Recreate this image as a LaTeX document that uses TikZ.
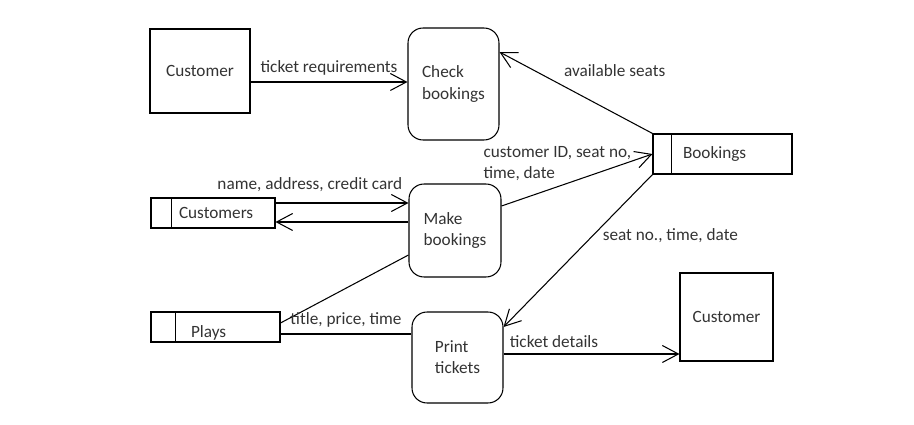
\documentclass[tikz,border=0pt]{standalone}
\usepackage{fontspec}
\setmainfont{Carlito}
\usetikzlibrary{arrows.meta}
\usetikzlibrary{positioning}

\begin{document}
\begin{tikzpicture}[x=0.02cm, y=-0.02cm, line width=0.6pt,
	every node/.style={font=\fontsize{9.8}{12}\selectfont, text=black!80},
	entity/.style={draw},
	proc/.style={draw, rounded corners=0.3cm, align=left},
	store/.style={draw, inner xsep=0pt, inner ysep=0pt, align=left},
	flow/.style={-{Straight Barb[length=0.32cm,width=0.34cm]}}]
					\useasboundingbox (0,0) rectangle (914,425);

					% external entities
					\node[entity, minimum width=2cm, minimum height=1.68cm] (cust1) at (200,71) {Customer};
					\node[entity, minimum width=1.86cm, minimum height=1.76cm] (cust2) at (726.5,317) {Customer};

					% processes
					\node[proc, minimum width=1.82cm, minimum height=2.24cm] (check) at (453.5,84) {Check\\bookings};
					\node[proc, minimum width=1.84cm, minimum height=1.86cm] (make) at (455,230.5) {Make\\bookings};
					\node[proc, minimum width=1.82cm, minimum height=1.82cm] (print) at (457.5,357.5) {Print\\tickets};

					% data stores
					\node[store, text width=2.78cm, minimum height=0.8cm] (bookings) at (722.5,154) {\hspace*{0.6cm}Bookings};
					\node[store, text width=2.48cm, minimum height=0.6cm] (customers) at (213,213) {\hspace*{0.56cm}Customers};
					\node[store, text width=2.58cm, text height=0.52cm, text depth=0.08cm] (plays) at (215.5,327) {\hspace*{0.8cm}Plays};
					\draw ([xshift=0.38cm]bookings.north west) -- ([xshift=0.38cm]bookings.south west);
					\draw ([xshift=0.42cm]customers.north west) -- ([xshift=0.42cm]customers.south west);
					\draw ([xshift=0.5cm]plays.north west) -- ([xshift=0.5cm]plays.south west);

					% flows
					\draw[flow] ([yshift=-0.22cm]cust1.east) -- ([yshift=-0.22cm]cust1.east -| check.west) node[midway, above] {ticket requirements};
					\draw[flow] (bookings.north west) -- ([yshift=0.64cm]check.east) node[pos=0.62, anchor=south west] {available seats};
					\draw[flow] ([yshift=0.2cm]customers.east) -- ([yshift=0.2cm]customers.east -| make.west) node[pos=1, above left, yshift=3pt] {name, address, credit card};
					\draw[flow] ([yshift=-0.18cm]customers.east -| make.west) -- ([yshift=-0.18cm]customers.east);
					\draw[flow] ([yshift=0.49cm]make.east) -- (bookings.west) node[pos=0.37, above, align=left] {customer ID, seat no,\\time, date};
					\draw[flow] (bookings.south west) -- ([yshift=0.61cm]print.east) node[pos=0.4, right, xshift=2pt] {seat no., time, date};
					\draw[flow] ([yshift=0.07cm]print.east) -- ([yshift=0.07cm]print.east -| cust2.west) node[pos=0, above right] {ticket details};
					\draw ([yshift=0.08cm]plays.east) -- ([yshift=-0.49cm]make.west);
					\draw ([yshift=-0.14cm]plays.east) -- ([yshift=-0.14cm]plays.east -| print.west) node[midway, above] {title, price, time};

				\end{tikzpicture}
\end{document}
